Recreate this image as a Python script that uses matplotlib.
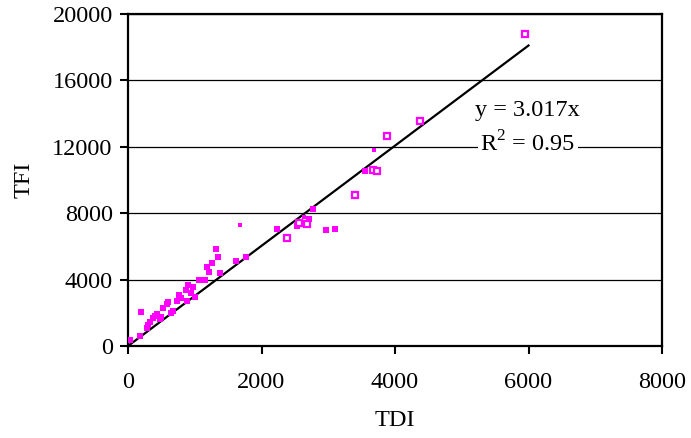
import numpy as np
import matplotlib
matplotlib.use('Agg')
import matplotlib.pyplot as plt

# Data (TDI vs TFI)
tdi_filled = [30, 180, 190, 290, 300, 330, 380, 410, 440, 480, 490, 530, 580, 600,
              650, 680, 730, 770, 800, 870, 880, 900, 940, 975, 1000, 1060, 1160,
              1185, 1215, 1255, 1313, 1345, 1375, 1622, 1761, 2234, 2533, 2716,
              2776, 2965, 3100, 3550]
tfi_filled = [360, 620, 2070, 1070, 1250, 1450, 1700, 1780, 1930, 1600, 1750, 2270,
              2530, 2650, 1980, 2080, 2720, 3100, 2900, 3380, 2700, 3680, 3180, 3580,
              2980, 4000, 3960, 4740, 4480, 4990, 5860, 5390, 4380, 5100, 5390, 7070,
              7200, 7660, 8280, 7010, 7070, 10570]

tdi_small = [1680, 2640, 3690]
tfi_small = [7300, 7800, 11780]

tdi_hollow = [2383, 2567, 2682, 3398, 3667, 3731, 3876, 4380, 5950]
tfi_hollow = [6530, 7380, 7360, 9070, 10630, 10520, 12680, 13550, 18800]

slope = 3.017
r2 = 0.95
fit_x = [0, 6000]

plt.rcParams['font.family'] = ['Liberation Serif', 'DejaVu Serif']
plt.rcParams['mathtext.fontset'] = 'custom'
plt.rcParams['mathtext.rm'] = 'Liberation Serif'

fig = plt.figure(figsize=(6.91, 4.38), dpi=100)
ax = fig.add_axes([128 / 691, 92 / 438, 534 / 691, 332 / 438])

mag = '#ff00ff'
ax.plot(tdi_filled, tfi_filled, 's', color=mag, markersize=5, markeredgewidth=0, zorder=3)
ax.plot(tdi_small, tfi_small, 's', color=mag, markersize=3.5, markeredgewidth=0, zorder=3)
ax.plot(tdi_hollow, tfi_hollow, 's', markerfacecolor='white', markeredgecolor=mag,
        markersize=3.8, markeredgewidth=1.6, zorder=3)

fit_x = np.array(fit_x)
ax.plot(fit_x, slope * fit_x, color='black', linewidth=1.6, zorder=2)

ax.set_xlim(0, 8000)
ax.set_ylim(0, 20000)
ax.set_xticks(np.arange(0, 8001, 2000))
ax.set_yticks(np.arange(0, 20001, 4000))
ax.yaxis.grid(True, color='black', linewidth=0.9)
ax.set_axisbelow(True)

for s in ax.spines.values():
    s.set_linewidth(1.6)

ax.tick_params(direction='out', length=6, width=1.5, labelsize=17.5, pad=5)
ax.tick_params(axis='x', pad=13)

ax.set_xlabel('TDI', fontsize=17.5, labelpad=12)
ax.set_ylabel('TFI', fontsize=17.5, labelpad=13)

box = dict(facecolor='white', edgecolor='none', pad=1.5)
ax.text(5990, 14160, 'y = %.3fx' % slope, fontsize=17.5, ha='center', va='center',
        zorder=4, bbox=box)
ax.text(5990, 12150, r'R$^{\mathrm{2}}$ = %.2f' % r2, fontsize=17.5, ha='center',
        va='center', zorder=4, bbox=box)

fig.savefig('out.png', dpi=100)
